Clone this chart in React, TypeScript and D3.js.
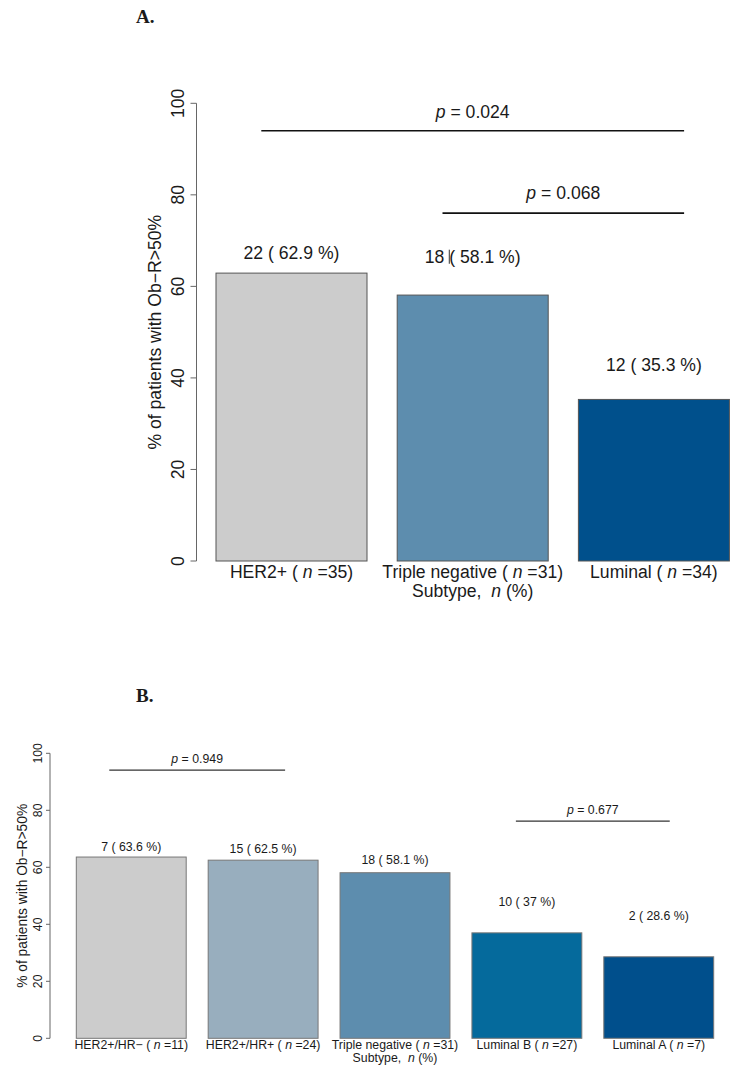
import React from "react";
import * as d3 from "d3";

// ---------- Data ----------
const categoriesA = ["HER2+", "Triple negative", "Luminal"];
const nA = [35, 31, 34];
const countsA = [22, 18, 12];
const pctA = [62.9, 58.1, 35.3];
const labelYA = [67.3, 66.4, 42.8];
const colorsA = ["#CCCCCC", "#5D8DAE", "#00508C"];

const categoriesB = ["HER2+/HR\u2212", "HER2+/HR+", "Triple negative", "Luminal B", "Luminal A"];
const nB = [11, 24, 31, 27, 7];
const countsB = [7, 15, 18, 10, 2];
const pctB = [63.6, 62.5, 58.1, 37, 28.6];
const labelYB = [67.4, 66.7, 62.8, 47.8, 42.9];
const colorsB = ["#CCCCCC", "#98AEBE", "#5D8DAE", "#056A9C", "#004F8C"];

const yTicks = [0, 20, 40, 60, 80, 100];

const pTestsA = [
  { p: "0.024", from: 0.5, to: 3.3, y: 94, textY: 98.2 },
  { p: "0.068", from: 1.7, to: 3.3, y: 76, textY: 80.4 },
];
const pTestsB = [
  { p: "0.949", from: 0.5, to: 2.1, y: 94.1, textY: 98.2 },
  { p: "0.677", from: 4.2, to: 5.6, y: 76.2, textY: 80.4 },
];

const yLabel = "% of patients with Ob\u2212R>50%";
const FONT = "'Liberation Sans', Arial, Helvetica, sans-serif";

type PanelProps = {
  title: string;
  titleX: number;
  titleY: number;
  cats: string[];
  ns: number[];
  counts: number[];
  pcts: number[];
  labelY: number[];
  colors: string[];
  tests: { p: string; from: number; to: number; y: number; textY: number }[];
  xRange: [number, number];
  yRange: [number, number];
  axisX: number;
  fs: number;
  ylabFs: number;
  ylabX: number;
  tickLabX: number;
  tickLen: number;
  line1: number;
  line2: number;
  barStroke: string;
  pStroke: string;
  pWidth: number;
  cursor?: boolean;
};

function Panel(props: PanelProps) {
  const {
    cats, ns, counts, pcts, labelY, colors, tests, xRange, yRange, axisX, fs,
    ylabFs, ylabX, tickLabX, tickLen, line1, line2, barStroke, pStroke, pWidth,
  } = props;
  const nBars = cats.length;
  const x = d3.scaleLinear().domain([0.2, 0.2 + 1.2 * nBars - 0.2]).range(xRange);
  const y = d3.scaleLinear().domain([0, 100]).range(yRange);
  const left = (i: number) => 0.2 + 1.2 * i;
  const center = (i: number) => left(i) + 0.5;
  const plotCenterY = (y(-4) + y(104)) / 2;
  const mid = Math.floor(nBars / 2);
  const txtColor = "#1a1a1a";
  return (
    <g fontFamily={FONT} fill={txtColor}>
      <text
        x={props.titleX}
        y={props.titleY}
        fontFamily="'Liberation Serif', 'Times New Roman', serif"
        fontWeight="bold"
        fontSize={19}
      >
        {props.title}
      </text>
      {/* y axis */}
      <line x1={axisX} x2={axisX} y1={y(0)} y2={y(100)} stroke="#666" strokeWidth={1} />
      {yTicks.map((t) => (
        <g key={t}>
          <line x1={axisX - tickLen} x2={axisX} y1={y(t)} y2={y(t)} stroke="#666" strokeWidth={1} />
          <text
            transform={`translate(${tickLabX},${y(t)}) rotate(-90)`}
            textAnchor="middle"
            fontSize={fs}
          >
            {t}
          </text>
        </g>
      ))}
      <text
        transform={`translate(${ylabX},${plotCenterY}) rotate(-90)`}
        textAnchor="middle"
        fontSize={ylabFs}
      >
        {yLabel}
      </text>
      {/* bars */}
      {pcts.map((v, i) => (
        <rect
          key={i}
          x={x(left(i))}
          y={y(v)}
          width={x(left(i) + 1) - x(left(i))}
          height={y(0) - y(v)}
          fill={colors[i]}
          stroke={barStroke}
          strokeWidth={1}
        />
      ))}
      {/* value labels */}
      {pcts.map((v, i) => (
        <text
          key={"l" + i}
          x={x(center(i))}
          y={y(labelY[i]) + 0.36 * fs}
          textAnchor="middle"
          fontSize={fs}
          style={{ whiteSpace: "pre" }}
        >
          {`${counts[i]} ( ${v} %)`}
        </text>
      ))}
      {props.cursor && (
        <line
          x1={x(center(1)) - 1.33 * fs}
          x2={x(center(1)) - 1.33 * fs}
          y1={y(labelY[1]) - 0.42 * fs}
          y2={y(labelY[1]) + 0.38 * fs}
          stroke="#333"
          strokeWidth={1}
        />
      )}
      {/* category labels */}
      {cats.map((c, i) => (
        <text
          key={"c" + i}
          x={x(center(i))}
          y={y(0) + line1}
          textAnchor="middle"
          fontSize={fs}
          style={{ whiteSpace: "pre" }}
        >
          {`${c} ( `}
          <tspan fontStyle="italic">n</tspan>
          {` =${ns[i]})`}
        </text>
      ))}
      <text
        x={x(center(mid))}
        y={y(0) + line2}
        textAnchor="middle"
        fontSize={fs}
        style={{ whiteSpace: "pre" }}
      >
        {"Subtype,  "}
        <tspan fontStyle="italic">n</tspan>
        {" (%)"}
      </text>
      {/* p-value brackets */}
      {tests.map((t, i) => (
        <g key={"p" + i}>
          <line x1={x(t.from)} x2={x(t.to)} y1={y(t.y)} y2={y(t.y)} stroke={pStroke} strokeWidth={pWidth} />
          <text
            x={x((t.from + t.to) / 2)}
            y={y(t.textY) + 0.36 * fs}
            textAnchor="middle"
            fontSize={fs}
            style={{ whiteSpace: "pre" }}
          >
            <tspan fontStyle="italic">p</tspan>
            {` = ${t.p}`}
          </text>
        </g>
      ))}
    </g>
  );
}

export default function App() {
  return (
    <svg
      width={736}
      height={1065}
      viewBox="0 0 736 1065"
      style={{ position: "absolute", left: 0, top: 0, display: "block", background: "#fff" }}
    >
      <rect x={0} y={0} width={736} height={1065} fill="#fff" />
      <Panel
        title="A."
        titleX={136}
        titleY={23}
        cats={categoriesA}
        ns={nA}
        counts={countsA}
        pcts={pctA}
        labelY={labelYA}
        colors={colorsA}
        tests={pTestsA}
        xRange={[216, 729.4]}
        yRange={[561, 103.3]}
        axisX={196.5}
        fs={17.6}
        ylabFs={17.6}
        ylabX={161}
        tickLabX={183.5}
        tickLen={6}
        line1={16.5}
        line2={36}
        barStroke="#555"
        pStroke="#111"
        pWidth={1.6}
        cursor
      />
      <Panel
        title="B."
        titleX={136}
        titleY={702}
        cats={categoriesB}
        ns={nB}
        counts={countsB}
        pcts={pctB}
        labelY={labelYB}
        colors={colorsB}
        tests={pTestsB}
        xRange={[76.3, 713.7]}
        yRange={[1038.3, 753.3]}
        axisX={50}
        fs={12.3}
        ylabFs={13.8}
        ylabX={27.4}
        tickLabX={41.7}
        tickLen={4}
        line1={11.1}
        line2={23.6}
        barStroke="#777"
        pStroke="#333"
        pWidth={1.2}
      />
    </svg>
  );
}
